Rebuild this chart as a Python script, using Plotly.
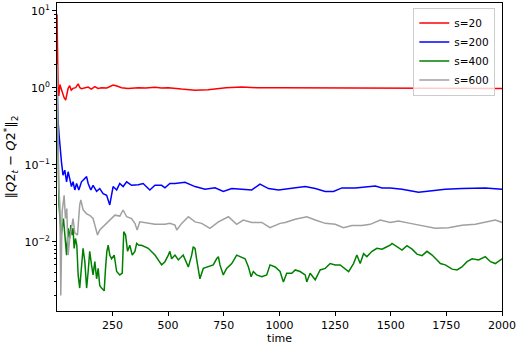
import plotly.graph_objects as go

# ---- data ----
t_s20 = [1, 3, 6, 9, 14, 21, 27, 33, 40, 46, 51, 58, 65, 73, 85, 96, 104, 111, 125, 141, 155, 171, 185, 201,
         225, 253, 270, 291, 320, 366, 400, 441, 470, 501, 560, 621, 680, 711, 760, 831, 900, 1000, 1100, 1200,
         1300, 1400, 1500, 1600, 1700, 1800, 1900, 2000]
v_s20 = [9, 2.5, 1.0, 0.78, 1.1, 0.95, 0.8, 0.74, 0.69, 0.85, 0.98, 1.06, 0.93, 0.98, 1.0, 1.12, 1.0, 0.97, 1.0,
         1.02, 0.96, 1.03, 0.98, 1.0, 0.99, 1.08, 1.05, 1.0, 0.98, 1.0, 0.99, 1.01, 0.99, 1.0, 0.96, 0.93, 0.94,
         0.96, 1.0, 1.02, 1.0, 1.0, 1.0, 0.99, 0.99, 1.0, 0.99, 0.99, 1.0, 0.99, 0.98, 0.98]

t_s200 = [1, 5, 10, 13, 21, 28, 36, 44, 51, 58, 66, 73, 81, 89, 99, 111, 126, 134, 141, 153, 163, 179, 193, 208,
          224, 238, 253, 269, 283, 298, 314, 336, 366, 388, 418, 441, 471, 486, 508, 531, 576, 621, 666, 711, 748,
          786, 831, 876, 913, 951, 996, 1026, 1071, 1116, 1161, 1206, 1243, 1281, 1341, 1386, 1431, 1461, 1498,
          1551, 1625, 1686, 1745, 1820, 1880, 1925, 2000]
v_s200 = [1.5, 0.4, 0.25, 0.19, 0.109, 0.073, 0.085, 0.060, 0.081, 0.066, 0.052, 0.060, 0.047, 0.057, 0.047,
          0.060, 0.066, 0.070, 0.057, 0.047, 0.054, 0.045, 0.049, 0.042, 0.040, 0.030, 0.052, 0.047, 0.057, 0.052,
          0.060, 0.054, 0.055, 0.057, 0.047, 0.054, 0.054, 0.050, 0.057, 0.057, 0.059, 0.052, 0.048, 0.050, 0.045,
          0.049, 0.048, 0.047, 0.056, 0.049, 0.047, 0.048, 0.050, 0.052, 0.049, 0.045, 0.045, 0.050, 0.050, 0.051,
          0.053, 0.050, 0.050, 0.048, 0.044, 0.046, 0.048, 0.049, 0.049, 0.050, 0.048]

t_s400 = [1, 5, 10, 20, 30, 44, 51, 58, 63, 69, 73, 78, 84, 90, 96, 103, 111, 118, 126, 134, 141, 148, 156, 163,
          171, 179, 186, 193, 201, 213, 219, 225, 231, 238, 246, 258, 269, 283, 294, 301, 309, 318, 328, 339, 351,
          359, 369, 381, 411, 441, 471, 486, 501, 508, 516, 531, 546, 568, 591, 606, 613, 621, 628, 636, 643, 658,
          681, 703, 718, 726, 733, 748, 763, 786, 808, 823, 846, 861, 873, 883, 898, 921, 943, 958, 981, 1003,
          1018, 1033, 1056, 1071, 1093, 1116, 1123, 1138, 1153, 1161, 1183, 1206, 1228, 1251, 1273, 1296, 1311,
          1333, 1348, 1363, 1378, 1393, 1416, 1438, 1461, 1483, 1498, 1506, 1528, 1551, 1573, 1596, 1618, 1641,
          1663, 1686, 1708, 1723, 1745, 1776, 1798, 1820, 1843, 1866, 1895, 1925, 1948, 1970, 2000]
v_s400 = [1.0, 0.1, 0.03, 0.012, 0.02, 0.0067, 0.0149, 0.011, 0.0164, 0.0122, 0.015, 0.0082, 0.011, 0.009,
          0.0037, 0.0025, 0.0055, 0.0082, 0.0055, 0.0025, 0.0041, 0.0075, 0.005, 0.0037, 0.0055, 0.0033, 0.0045,
          0.0027, 0.0025, 0.0023, 0.0045, 0.0075, 0.009, 0.0067, 0.006, 0.0067, 0.0041, 0.0037, 0.0039, 0.0135,
          0.0122, 0.0075, 0.009, 0.0067, 0.0075, 0.0095, 0.009, 0.009, 0.0082, 0.0067, 0.005, 0.0055, 0.0067,
          0.0075, 0.006, 0.0067, 0.0058, 0.0067, 0.0047, 0.0067, 0.0086, 0.0082, 0.006, 0.0041, 0.0033, 0.0045,
          0.0047, 0.005, 0.006, 0.0064, 0.005, 0.0037, 0.0045, 0.0052, 0.0067, 0.0064, 0.006, 0.0047, 0.0035,
          0.0041, 0.0037, 0.0035, 0.0037, 0.005, 0.0047, 0.0041, 0.003, 0.0039, 0.0039, 0.0043, 0.0041, 0.0037,
          0.003, 0.0039, 0.0035, 0.0032, 0.0043, 0.0045, 0.0052, 0.005, 0.005, 0.0045, 0.0041, 0.0052, 0.0067,
          0.0052, 0.007, 0.0064, 0.0075, 0.0082, 0.008, 0.0086, 0.009, 0.0095, 0.0086, 0.0078, 0.0089, 0.008,
          0.0069, 0.0066, 0.0075, 0.0067, 0.0058, 0.0052, 0.005, 0.0044, 0.0043, 0.0047, 0.0055, 0.006, 0.0058,
          0.0064, 0.0055, 0.0052, 0.006]

t_s600 = [1, 5, 9, 14, 18, 24, 33, 39, 45, 51, 58, 66, 73, 81, 93, 103, 108, 118, 134, 148, 163, 171, 183, 193,
          216, 238, 261, 283, 298, 314, 336, 351, 361, 373, 411, 441, 486, 508, 531, 539, 561, 591, 621, 651, 688,
          726, 771, 808, 838, 876, 921, 958, 1003, 1026, 1071, 1123, 1161, 1206, 1251, 1288, 1326, 1371, 1408,
          1453, 1498, 1535, 1588, 1641, 1700, 1760, 1820, 1880, 1925, 1970, 2000]
v_s600 = [2.0, 0.3, 0.05, 0.03, 0.002, 0.0245, 0.040, 0.020, 0.027, 0.0067, 0.011, 0.015, 0.020, 0.013, 0.0122,
          0.030, 0.035, 0.026, 0.023, 0.022, 0.020, 0.0164, 0.0122, 0.0142, 0.0164, 0.0191, 0.0221, 0.0215,
          0.0258, 0.0211, 0.020, 0.0173, 0.0142, 0.0181, 0.0173, 0.0168, 0.0168, 0.0173, 0.0164, 0.0142, 0.0173,
          0.0211, 0.0181, 0.0173, 0.0149, 0.0181, 0.0211, 0.0168, 0.0191, 0.0178, 0.0178, 0.0152, 0.0173, 0.0178,
          0.0196, 0.0211, 0.0191, 0.0173, 0.0168, 0.0152, 0.0162, 0.0162, 0.0168, 0.0191, 0.0178, 0.0185, 0.0173,
          0.0162, 0.0149, 0.0152, 0.0164, 0.0168, 0.0178, 0.0191, 0.0178]

series = [
    ("s=20", t_s20, v_s20, "#ff0000"),
    ("s=200", t_s200, v_s200, "#0000ff"),
    ("s=400", t_s400, v_s400, "#008000"),
    ("s=600", t_s600, v_s600, "#a0a0a0"),
]

x_ticks = [250, 500, 750, 1000, 1250, 1500, 1750, 2000]
y_ticks = [0.01, 0.1, 1, 10]
y_ticktext = ["10<sup>−2</sup>", "10<sup>−1</sup>", "10<sup>0</sup>", "10<sup>1</sup>"]
y_minor = [m * 10 ** e for e in (-3, -2, -1, 0) for m in range(2, 10)]

fig = go.Figure()
for name, t, v, c in series:
    fig.add_trace(go.Scatter(x=t, y=v, mode="lines", name=name,
                             line=dict(color=c, width=1.5)))

font = dict(family="DejaVu Sans", size=11, color="black")
axis_common = dict(showgrid=False, zeroline=False, showline=True, mirror=True,
                   linecolor="black", linewidth=1, ticks="outside", ticklen=4,
                   tickcolor="black", tickfont=font)

fig.update_layout(
    width=519, height=349,
    margin=dict(l=57, r=17, t=3, b=38),
    paper_bgcolor="white", plot_bgcolor="white",
    font=font,
    xaxis=dict(range=[1, 2000], tickvals=x_ticks,
               title=dict(text="time", font=font, standoff=2), **axis_common),
    yaxis=dict(type="log", range=[-2.9, 1.1], tickvals=y_ticks, ticktext=y_ticktext,
               minor=dict(tickvals=y_minor, ticks="outside", ticklen=2, tickcolor="black"),
               title=dict(text="‖<i>Q</i>2<sub><i>t</i></sub> − <i>Q</i>2<sup>*</sup>‖<sub>2</sub>",
                          font=dict(family="DejaVu Sans", size=13, color="black"), standoff=5),
               **axis_common),
    legend=dict(x=0.985, y=0.985, xanchor="right", yanchor="top",
                bgcolor="rgba(255,255,255,0.8)", bordercolor="#cccccc", borderwidth=1,
                font=dict(family="DejaVu Sans", size=10.5, color="black"),
                itemwidth=30, tracegroupgap=0),
    showlegend=True,
)

fig.write_html("out.html", config={"displayModeBar": False},
               post_script="document.body.style.margin='0px';document.body.style.overflow='hidden';")
